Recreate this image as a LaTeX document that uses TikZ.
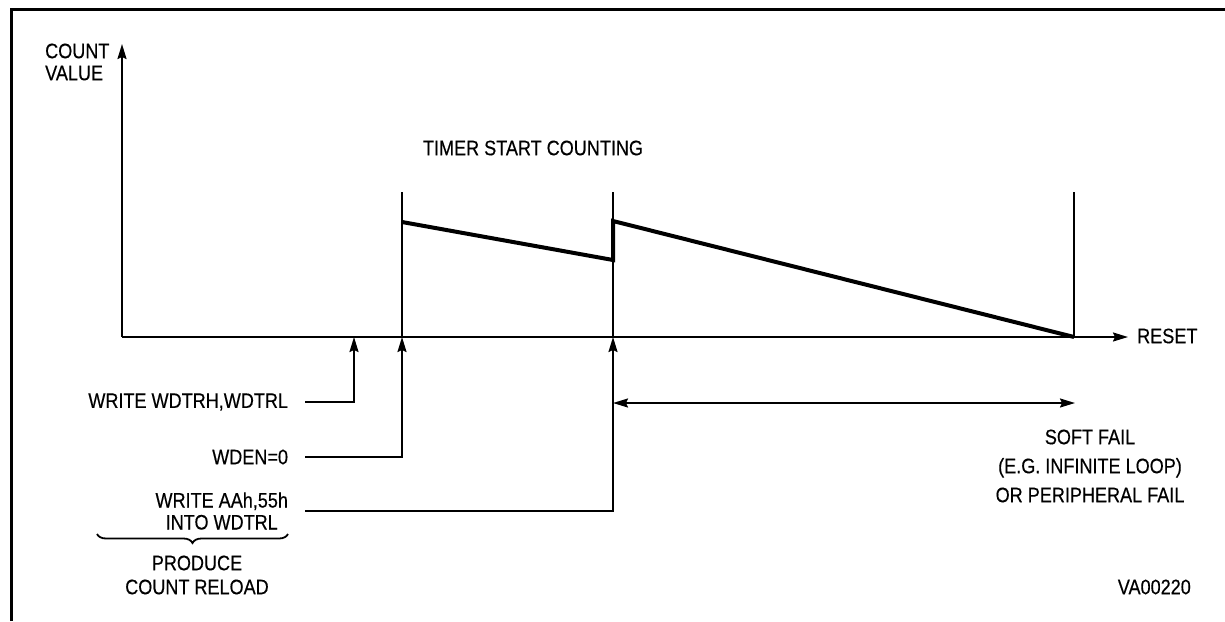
\documentclass[tikz,border=0pt]{standalone}
\usepackage{fontspec}
\setmainfont{Liberation Sans}[FakeStretch=0.86,FakeBold=0.4]
\usetikzlibrary{arrows.meta,decorations.pathreplacing}

\begin{document}
\begin{tikzpicture}[x=1pt,y=-1pt,>={Stealth[length=15pt,width=9pt,inset=2pt]},
  txt/.style={font=\fontsize{21}{22}\selectfont,inner sep=0pt},
  lbl/.style={txt,anchor=east,outer xsep=17pt},
  axisline/.style={line width=1.8pt},
  sawline/.style={line width=4pt,line join=miter}]
\useasboundingbox (0,0) rectangle (1225,621);
% frame, only top and left edges show
\draw[line width=3pt] (11,621) -- (11,9) -- (1225,9);
% axes
\coordinate (o) at (122,337);
\coordinate (ytop) at (122,44);
\coordinate (xend) at (1128,337);
\draw[axisline,->] (o) -- (ytop);
\draw[axisline,->] (o) -- (xend);
\node[txt,align=left,anchor=west] (cval) at (45,62) {COUNT\\VALUE};
\node[txt,anchor=west] (reset) at (1137,336) {RESET};
\node[txt] (timer) at (533,148) {TIMER START COUNTING};
% event marks on the time axis
\coordinate (w0) at (354,337);
\coordinate (t1) at (402,337);
\coordinate (t2) at (613,337);
\coordinate (t3) at (1074,337);
\coordinate (t1top) at (402,192);
\coordinate (t2top) at (613,192);
\coordinate (t3top) at (1074,192);
\draw[axisline] (t1) -- (t1top);
\draw[axisline] (t2) -- (t2top);
\draw[axisline] (t3) -- (t3top);
% count value
\draw[sawline] (402,222) -- (613,260) -- (613,221) -- (t3);
% software events
\node[lbl] (wrt) at (305,402) {WRITE WDTRH,WDTRL};
\node[lbl] (wden) at (305,457) {WDEN=0};
\node[lbl,align=center] (wraa) at (305,511) {WRITE AAh,55h\\INTO WDTRL};
\draw[axisline,->] (wrt) -| (w0);
\draw[axisline,->] (wden) -| (t1);
\draw[axisline,->] (wraa) -| (t2);
\coordinate (br1) at (97,534);
\coordinate (br2) at (288,534);
\draw[axisline,decorate,decoration={brace,mirror,amplitude=9pt}] (br1) -- (br2);
\node[txt,align=center,font=\fontsize{21}{24}\selectfont] (prod) at (197,575) {PRODUCE\\COUNT RELOAD};
% fail window
\coordinate (sf1) at (613,403);
\coordinate (sf2) at (1075,403);
\draw[axisline,<->] (sf1) -- (sf2);
\node[txt,align=center,font=\fontsize{21}{29}\selectfont] (soft) at (1090,466) {SOFT FAIL\\(E.G. INFINITE LOOP)\\OR PERIPHERAL FAIL};
\node[txt,anchor=east] (code) at (1191,587) {VA00220};
\end{tikzpicture}
\end{document}
